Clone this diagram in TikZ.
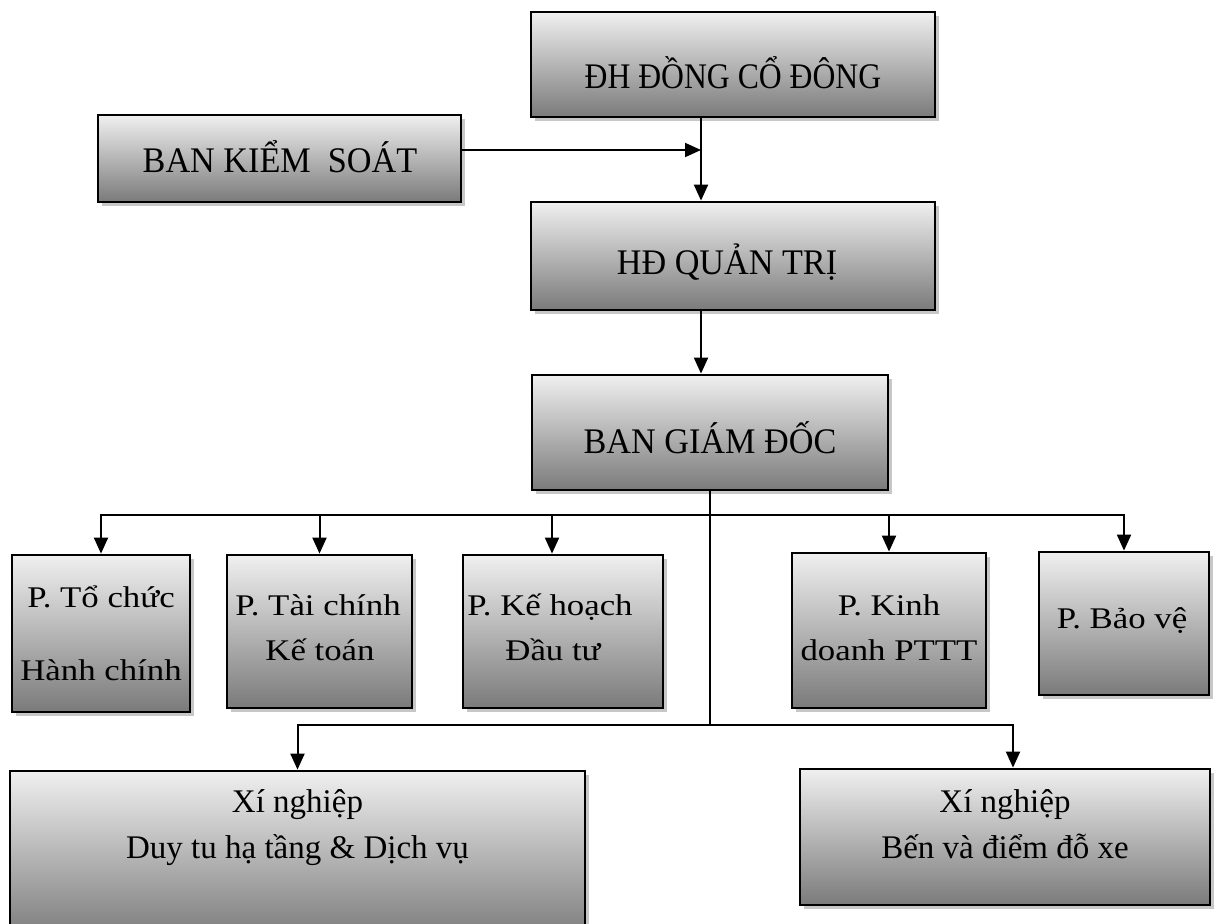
\documentclass[tikz,border=0pt]{standalone}
\usepackage{fontspec}
\setmainfont{Liberation Serif}
\newfontfamily\mainf[FakeStretch=0.95]{Liberation Serif}
\newfontfamily\narrowf[FakeStretch=0.88]{Liberation Serif}
\newfontfamily\widef[FakeStretch=1.16]{Liberation Serif}
\usetikzlibrary{arrows.meta,shadows}
\begin{document}
\begin{tikzpicture}[x=1pt,y=-1pt,
  box/.style={draw=black, line width=2.8pt, top color=black!6, bottom color=black!52,
    drop shadow={shadow xshift=4pt, shadow yshift=-4pt, fill=black!22, opacity=1}, inner sep=0pt},
  big/.style={anchor=base, font=\mainf\fontsize{36}{40}\selectfont, inner sep=0pt},
  bign/.style={anchor=base, font=\narrowf\fontsize{36}{40}\selectfont, inner sep=0pt},
  small/.style={anchor=base, font=\widef\fontsize{30}{36}\selectfont, inner sep=0pt},
  xn/.style={anchor=base, font=\fontsize{33}{40}\selectfont, inner sep=0pt},
  conn/.style={line width=2pt},
  arr/.style={line width=2pt, -{Triangle[length=16pt,width=14pt]}}
]
\useasboundingbox (0,0) rectangle (1216,924);
\fill[white] (0,0) rectangle (1216,924);

% boxes
\node[box, minimum width=404pt, minimum height=105pt] (dh) at (733,64.5) {};
\node[box, minimum width=363pt, minimum height=87pt] (bks) at (279.5,158.5) {};
\node[box, minimum width=404pt, minimum height=108pt] (hd) at (733,256) {};
\node[box, minimum width=356pt, minimum height=115pt] (bgd) at (710,432.5) {};
\node[box, minimum width=178pt, minimum height=157pt] (p1) at (101,633.5) {};
\node[box, minimum width=185pt, minimum height=153pt] (p2) at (319.5,631.5) {};
\node[box, minimum width=200pt, minimum height=153pt] (p3) at (563,631.5) {};
\node[box, minimum width=194pt, minimum height=155pt] (p4) at (889,630.5) {};
\node[box, minimum width=170pt, minimum height=143pt] (p5) at (1124,623.5) {};
\node[box, minimum width=575pt, minimum height=169pt] (x1) at (297.5,855.5) {};
\node[box, minimum width=410pt, minimum height=136pt] (x2) at (1005,837) {};

% texts
\node[bign] (dht) at (733,88) {ĐH ĐỒNG CỔ ĐÔNG};
\node[big] (bkst) at (280,172) {BAN KIỂM~~SOÁT};
\node[big] (hdt) at (727,274) {HĐ QUẢN TRỊ};
\node[big] (bgdt) at (710,453) {BAN GIÁM ĐỐC};
\node[small] (p1a) at (101,607) {P. Tổ chức};
\node[small] (p1b) at (101,680) {Hành chính};
\node[small] (p2a) at (318,615) {P. Tài chính};
\node[small] (p2b) at (320,660) {Kế toán};
\node[small] (p3a) at (550,615) {P. Kế hoạch};
\node[small] (p3b) at (553,660) {Đầu tư};
\node[small] (p4a) at (889,615) {P. Kinh};
\node[small] (p4b) at (889,660) {doanh PTTT};
\node[small] (p5a) at (1122,628) {P. Bảo vệ};
\node[xn] (x1a) at (297.5,812) {Xí nghiệp};
\node[xn] (x1b) at (297.5,858) {Duy tu hạ tầng \& Dịch vụ};
\node[xn] (x2a) at (1005,812) {Xí nghiệp};
\node[xn] (x2b) at (1005,858) {Bến và điểm đỗ xe};

% connectors
\coordinate (j1) at (701,150);
\coordinate (jt) at (710,515);
\coordinate (jb) at (710,725);
\draw[arr] (bks.east |- j1) -- (j1);
\draw[arr] ([xshift=-32pt]dh.south) -- ([xshift=-32pt]hd.north);
\draw[arr] ([xshift=-32pt]hd.south) -- ([xshift=-9pt]bgd.north);
\draw[conn] (bgd.south) -- (jb);
\draw[arr] (jt) -| (p1.north);
\draw[arr] (jt) -| (p2.north);
\draw[arr] (jt) -| ([xshift=-11pt]p3.north);
\draw[arr] (jt) -| (p4.north);
\draw[arr] (jt) -| (p5.north);
\draw[arr] (jb) -| (x1.north);
\draw[arr] (jb) -| ([xshift=8pt]x2.north);
\end{tikzpicture}
\end{document}
